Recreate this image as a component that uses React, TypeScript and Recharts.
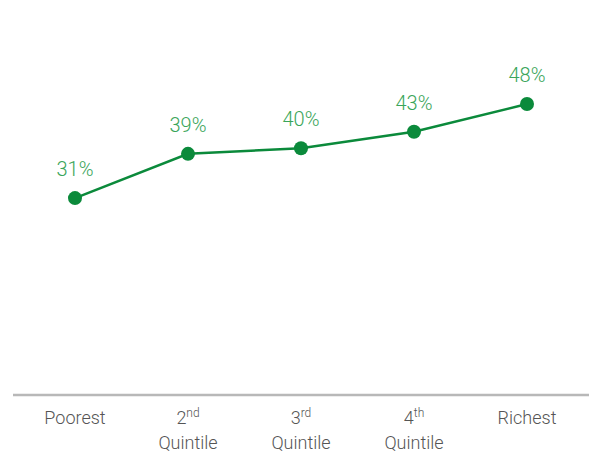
import React from "react";
import { LineChart, Line, XAxis, YAxis, LabelList } from "recharts";

const categories = ["Poorest", "2nd Quintile", "3rd Quintile", "4th Quintile", "Richest"];
const tickMain = ["Poorest", "2", "3", "4", "Richest"];
const tickSup = ["", "nd", "rd", "th", ""];
const tickSecond = ["", "Quintile", "Quintile", "Quintile", ""];
const values = [31, 39, 40, 43, 48];

const data = categories.map((c, i) => ({ name: c, idx: i, value: values[i] }));

const Tick = (props: any) => {
  const { x, y, payload } = props;
  const i = payload.index;
  return (
    <g>
      <text x={x} y={y + 21} textAnchor="middle" fill="#555" fontSize={18} fontWeight={300} fontFamily="Roboto, sans-serif">
        {tickMain[i]}
        {tickSup[i] ? (
          <tspan fontSize={12} dy={-7}>{tickSup[i]}</tspan>
        ) : null}
      </text>
      {tickSecond[i] ? (
        <text x={x} y={y + 46} textAnchor="middle" fill="#555" fontSize={18} fontWeight={300} fontFamily="Roboto, sans-serif">
          {tickSecond[i]}
        </text>
      ) : null}
    </g>
  );
};

export default function App() {
  return (
    <div style={{ position: "absolute", left: 0, top: 0 }}>
      <LineChart width={589} height={452} data={data} margin={{ top: 93, right: 0, bottom: 27, left: 13 }}>
        <XAxis
          dataKey="name"
          padding={{ left: 62, right: 62 }}
          axisLine={{ stroke: "#b8b8b8", strokeWidth: 2.5 }}
          tickLine={false}
          tick={<Tick />}
          interval={0}
        />
        <YAxis hide domain={[-4.6, 50]} />
        <Line
          type="linear"
          dataKey="value"
          stroke="#0b8a3b"
          strokeWidth={2.5}
          dot={{ r: 7, fill: "#0b8a3b", stroke: "none" }}
          isAnimationActive={false}
        >
          <LabelList
            dataKey="value"
            position="top"
            offset={22}
            formatter={(v: any) => `${v}%`}
            fill="#3aa55a"
            fontSize={20}
            fontWeight={300}
            fontFamily="Roboto, sans-serif"
          />
        </Line>
      </LineChart>
    </div>
  );
}
